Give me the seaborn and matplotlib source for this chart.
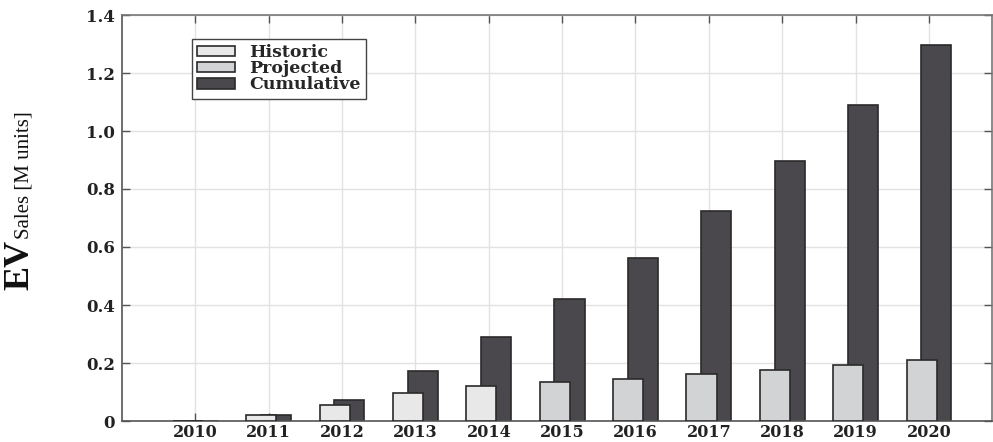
import numpy as np
import pandas as pd
import matplotlib
matplotlib.use("Agg")
import matplotlib.pyplot as plt
from matplotlib.patches import Patch
import seaborn as sns

# ---- data ----
years = [2010, 2011, 2012, 2013, 2014, 2015, 2016, 2017, 2018, 2019, 2020]
annual_sales = [0.0, 0.020, 0.055, 0.098, 0.120, 0.134, 0.145, 0.161, 0.176, 0.192, 0.210]
annual_type = ["Historic", "Historic", "Historic", "Historic", "Historic",
               "Projected", "Projected", "Projected", "Projected", "Projected", "Projected"]
cumulative_sales = [0.0, 0.020, 0.072, 0.171, 0.288, 0.421, 0.563, 0.723, 0.897, 1.089, 1.298]
y_ticks = [0, 0.2, 0.4, 0.6, 0.8, 1.0, 1.2, 1.4]
y_tick_labels = ["0", "0.2", "0.4", "0.6", "0.8", "1.0", "1.2", "1.4"]
legend_labels = ["Historic", "Projected", "Cumulative"]

colors = {"Historic": "#e9e8e9", "Projected": "#d2d3d5", "Cumulative": "#4a484c"}
edge = "#2a2a2a"

sns.set_style("white")
plt.rcParams["font.family"] = ["DejaVu Serif"]

W, H = 993, 442
fig = plt.figure(figsize=(W / 100, H / 100), dpi=100)
ax = fig.add_axes([122 / W, 1 - 421 / H, (992 - 122) / W, (421 - 15) / H])

offset = 0.1
df_cum = pd.DataFrame({"year": np.array(years) + offset, "value": cumulative_sales})
df_ann = pd.DataFrame({"year": np.array(years) - offset, "value": annual_sales, "type": annual_type})

sns.barplot(data=df_cum, x="year", y="value", native_scale=True, width=0.41,
            color=colors["Cumulative"], saturation=1, edgecolor=edge, linewidth=1.2,
            ax=ax, zorder=2)
sns.barplot(data=df_ann, x="year", y="value", hue="type", native_scale=True, width=0.41,
            dodge=False, palette={"Historic": colors["Historic"], "Projected": colors["Projected"]},
            saturation=1, edgecolor=edge, linewidth=1.2, ax=ax, legend=False, zorder=3)

ax.set_xlim(2009, 2020.86)
ax.set_ylim(0, 1.4)
ax.set_xticks(years)
ax.set_xticklabels([str(y) for y in years], fontsize=11.5, fontweight="bold", color="#222222")
ax.set_yticks(y_ticks)
ax.set_yticklabels(y_tick_labels, fontsize=12, fontweight="bold", color="#222222")
ax.set_xlabel("")
ax.set_ylabel("")

ax.grid(True, color="#e2e2e2", linewidth=1.0)
ax.set_axisbelow(True)
ax.tick_params(axis="both", direction="in", length=6, width=1.0, color="#555555",
               top=True, right=True, bottom=True, left=True)
ax.tick_params(axis="x", pad=2)
ax.tick_params(axis="y", pad=5)
for s in ax.spines.values():
    s.set_visible(True)
    s.set_color("#777777")
    s.set_linewidth(1.2)
ax.spines["left"].set_color("#555555")
ax.spines["bottom"].set_color("#555555")

handles = [Patch(facecolor=colors[k], edgecolor=edge, linewidth=1.2) for k in legend_labels]
leg = ax.legend(handles, legend_labels, loc="upper left", bbox_to_anchor=(70 / 870, (421 - 39) / 406),
                fancybox=False, frameon=True, edgecolor="#444444", framealpha=1,
                prop={"family": "DejaVu Serif", "weight": "bold", "size": 12.5},
                labelspacing=-0.05, handlelength=2.2, handleheight=0.55, handletextpad=0.8,
                borderpad=0.3, borderaxespad=0)
leg.get_frame().set_linewidth(1.0)

ev = fig.text(28 / W, 1 - 290 / H, "EV", rotation=90, rotation_mode="anchor",
              ha="left", va="baseline", family="Liberation Serif", fontweight="bold",
              fontsize=26, color="#111111")
fig.canvas.draw()
ev_len = ev.get_window_extent().height
fig.text(28 / W, 1 - (290 - ev_len - 1) / H, "Sales [M units]", rotation=90, rotation_mode="anchor",
         ha="left", va="baseline", family="Liberation Serif", fontsize=15, color="#111111")

fig.savefig("out.png", dpi=100)
